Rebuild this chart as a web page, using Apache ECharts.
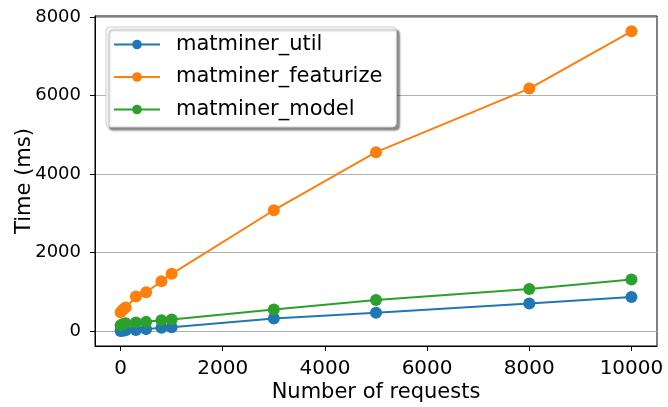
<!DOCTYPE html>
<html>
<head>
<meta charset="utf-8">
<script src="https://cdn.jsdelivr.net/npm/echarts@6/dist/echarts.min.js"></script>
<style>
html,body{margin:0;padding:0;background:#fff;}
#chart{width:668px;height:407px;}
</style>
</head>
<body>
<div id="chart"></div>
<script>
const requests = [1, 50, 100, 300, 500, 800, 1000, 3000, 5000, 8000, 10000];
const utilMs = [0, 10, 20, 30, 50, 85, 100, 320, 465, 705, 870];
const featurizeMs = [480, 550, 600, 880, 990, 1270, 1460, 3080, 4560, 6180, 7640];
const modelMs = [150, 180, 200, 220, 235, 275, 295, 550, 790, 1070, 1315];
const seriesNames = ['matminer_util', 'matminer_featurize', 'matminer_model'];
const xTicks = [0, 2000, 4000, 6000, 8000, 10000];
const yTicks = [0, 2000, 4000, 6000, 8000];

const colors = ['#1f77b4', '#ff7f0e', '#2ca02c'];
const FONT = 'DejaVu Sans';
const pairs = arr => requests.map((x, i) => [x, arr[i]]);
const allData = [utilMs, featurizeMs, modelMs];

const chart = echarts.init(document.getElementById('chart'), null, {renderer: 'canvas'});
chart.setOption({
  animation: false,
  backgroundColor: '#fff',
  color: colors,
  textStyle: {fontFamily: FONT},
  grid: {left: 95, right: 11, top: 16, bottom: 61, show: true, borderColor: '#000', borderWidth: 1,
         containLabel: false, outerBoundsMode: 'none'},
  legend: {
    orient: 'vertical', left: 106, top: 27,
    padding: [6, 14, 6, 7],
    itemWidth: 46, itemHeight: 12, itemGap: 9.5,
    backgroundColor: '#fff', borderColor: '#cccccc', borderWidth: 1, borderRadius: 4,
    shadowColor: 'rgba(0,0,0,0.45)', shadowOffsetX: 3, shadowOffsetY: 3, shadowBlur: 2,
    textStyle: {fontFamily: FONT, fontSize: 21, color: '#000', lineHeight: 23, padding: [0, 0, 0, 11]},
    data: seriesNames
  },
  xAxis: {
    type: 'value', min: -500, max: 10500,
    name: 'Number of requests', nameLocation: 'middle', nameGap: 36, nameMoveOverlap: false,
    nameTextStyle: {fontFamily: FONT, fontSize: 21, color: '#000'},
    axisLine: {show: true, onZero: false, lineStyle: {color: '#000', width: 1}},
    axisTick: {show: true, length: 5, inside: false, customValues: xTicks, lineStyle: {color: '#000'}},
    axisLabel: {customValues: xTicks, formatter: v => String(v), fontFamily: FONT, fontSize: 20, color: '#000', margin: 13},
    splitLine: {show: false}
  },
  yAxis: {
    type: 'value', min: -380, max: 8030,
    name: 'Time (ms)', nameLocation: 'middle', nameGap: 60, nameRotate: 90, nameMoveOverlap: false,
    nameTextStyle: {fontFamily: FONT, fontSize: 21, color: '#000'},
    axisLine: {show: true, onZero: false, lineStyle: {color: '#000', width: 1}},
    axisTick: {show: true, length: 5, inside: false, customValues: yTicks, lineStyle: {color: '#000'}},
    axisLabel: {customValues: yTicks, formatter: v => String(v), fontFamily: FONT, fontSize: 18, color: '#000', margin: 14},
    splitLine: {show: true, lineStyle: {color: '#b0b0b0', width: 1}}
  },
  series: seriesNames.map((n, i) => ({
    name: n, type: 'line', data: pairs(allData[i]),
    symbol: 'circle', symbolSize: 12, showSymbol: true,
    lineStyle: {width: 2, color: colors[i]},
    itemStyle: {color: colors[i]},
    z: 2 + i
  }))
});
</script>
</body>
</html>
